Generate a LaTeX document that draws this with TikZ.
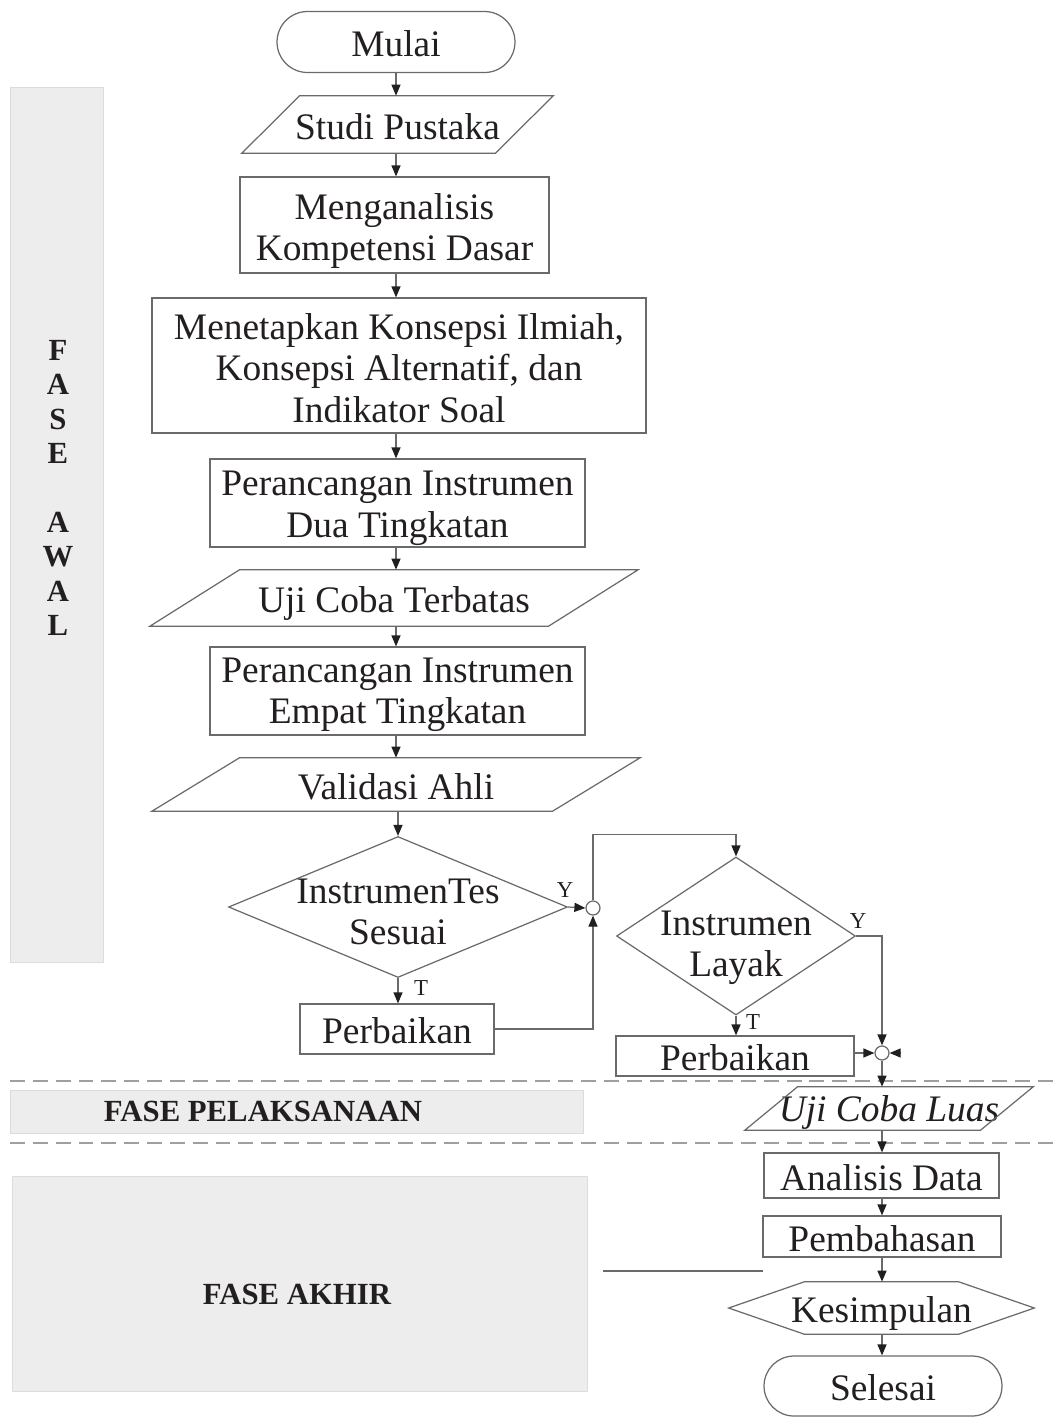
\documentclass[tikz,border=0pt]{standalone}
\usepackage{fontspec}
\setmainfont{Liberation Serif}
\usetikzlibrary{arrows.meta,calc,shapes.geometric,shapes.misc}
\definecolor{txt}{HTML}{231F20}
\definecolor{lnc}{HTML}{6A6A6A}
\definecolor{phase}{HTML}{EDEDED}
\definecolor{phaseb}{HTML}{DCDCDC}
\newcommand{\paraout}[2]{\draw[draw=lnc, line width=0.7pt] ($(#1.north west)+(#2,0)$) -- (#1.north east) -- ($(#1.south east)-(#2,0)$) -- (#1.south west) -- cycle;}
\begin{document}
\begin{tikzpicture}[x=0.02cm,y=-0.02cm,
  every node/.style={text=txt, inner sep=0pt},
  base/.style={font=\fontsize{21.3}{23.4}\selectfont, align=center},
  one/.style={text height=17pt, text depth=0.2pt},
  proc/.style={base, rectangle, draw=lnc, line width=0.7pt},
  term/.style={base, one, rounded rectangle, draw=lnc, line width=0.7pt},
  iobox/.style={base, one, rectangle},
  dec/.style={diamond, draw=lnc, line width=0.7pt},
  junc/.style={circle, draw=lnc, line width=0.7pt, fill=white, minimum size=0.28cm},
  arr/.style={draw=lnc, line width=0.7pt, -{Triangle[length=0.22cm,width=0.18cm,color=txt]}},
  lbl/.style={font=\fontsize{13}{13}\selectfont},
  phasebox/.style={fill=phase, draw=phaseb, line width=0.5pt},
  phasetxt/.style={font=\bfseries\fontsize{17.5}{19.6}\selectfont, align=center},
  sepline/.style={draw=gray!75, line width=1pt, dash pattern=on 8.5pt off 4.5pt}]
\useasboundingbox (0,0) rectangle (1060,1427);

% phase boxes
\path[phasebox] (10,87) rectangle (103,962);
\node[phasetxt] (fawal) at (58,488) {F\\A\\S\\E\\~\\A\\W\\A\\L};
\path[phasebox] (10,1090) rectangle (583,1133);
\node[phasetxt] (fpel) at (263,1111) {FASE PELAKSANAAN};
\path[phasebox] (12,1176) rectangle (587,1391);
\node[phasetxt] (fakh) at (297,1294) {FASE AKHIR};

% separators
\draw[sepline] (10,1081) -- (1060,1081);
\draw[sepline] (10,1143) -- (1060,1143);
\draw[draw=lnc, line width=0.7pt] (603,1271) -- (763,1271);

% main column
\node[term, minimum width=4.76cm, minimum height=1.22cm] (mulai) at (396,42) {Mulai};
\node[iobox, minimum width=6.22cm, minimum height=1.14cm] (studi) at (397.5,124.5) {Studi Pustaka};
\paraout{studi}{58}
\node[proc, minimum width=6.18cm, minimum height=1.92cm,
  label={[base, yshift=-3.5pt]center:{Menganalisis\\Kompetensi Dasar}}] (meng) at (394.5,225) {};
\node[proc, minimum width=9.88cm, minimum height=2.7cm,
  label={[base, yshift=-1.5pt]center:{Menetapkan Konsepsi Ilmiah,\\Konsepsi Alternatif, dan\\Indikator Soal}}] (menet) at (399,365.5) {};
\node[proc, minimum width=7.5cm, minimum height=1.76cm,
  label={[base, yshift=-3pt]center:{Perancangan Instrumen\\Dua Tingkatan}}] (dua) at (397.5,503) {};
\node[iobox, minimum width=9.76cm, minimum height=1.12cm] (uji1) at (394,598) {Uji Coba Terbatas};
\paraout{uji1}{90}
\node[proc, minimum width=7.5cm, minimum height=1.76cm,
  label={[base, yshift=-2pt]center:{Perancangan Instrumen\\Empat Tingkatan}}] (empat) at (397.5,691) {};
\node[iobox, minimum width=9.76cm, minimum height=1.06cm] (valid) at (396,784.5) {Validasi Ahli};
\paraout{valid}{88}

% decision 1
\node[dec, minimum width=6.78cm, minimum height=2.82cm] (d1) at (398,907) {};
\node[base] (d1t) at (398,912) {InstrumenTes\\Sesuai};
\node[junc] (j1) at (593,908) {};
\node[proc, one, minimum width=3.88cm, minimum height=1.0cm] (p1) at (397,1029) {Perbaikan};
\node[lbl] (y1) at (565,890) {Y};
\node[lbl] (t1) at (421,988) {T};

% decision 2
\node[dec, minimum width=4.78cm, minimum height=3.16cm] (d2) at (736,936) {};
\node[base] (d2t) at (736,948) {Instrumen\\Layak};
\node[proc, one, minimum width=4.76cm, minimum height=0.8cm] (p2) at (735,1056) {Perbaikan};
\node[junc] (j2) at (882,1053) {};
\coordinate (j2r) at ($(j2.east)+(11,0)$);
\node[lbl] (y2) at (858,921) {Y};
\node[lbl] (t2) at (753,1022) {T};

% final column
\node[iobox, minimum width=5.76cm, minimum height=0.86cm, text height=14.5pt, font=\itshape\fontsize{21.3}{23.4}\selectfont] (uluas) at (889,1108.5) {Uji Coba Luas};
\paraout{uluas}{53}
\node[proc, one, minimum width=4.7cm, minimum height=0.9cm] (anal) at (881.5,1175.5) {Analisis Data};
\node[proc, one, minimum width=4.76cm, minimum height=0.82cm] (pemb) at (882,1236.5) {Pembahasan};
\node[iobox, minimum width=6.1cm, minimum height=1.04cm] (kes) at (881.5,1308) {Kesimpulan};
\draw[draw=lnc, line width=0.7pt] (kes.west) -- ($(kes.north west)+(76,0)$) -- ($(kes.north east)-(76,0)$) -- (kes.east) -- ($(kes.south east)-(76,0)$) -- ($(kes.south west)+(76,0)$) -- cycle;
\node[term, minimum width=4.76cm, minimum height=1.2cm] (sel) at (883,1386) {Selesai};

% connectors
\draw[arr] (mulai.south) -- (mulai.south |- studi.north);
\draw[arr] (studi.south -| mulai.south) -- (mulai.south |- meng.north);
\draw[arr] (meng.south -| mulai.south) -- (mulai.south |- menet.north);
\draw[arr] (menet.south -| mulai.south) -- (mulai.south |- dua.north);
\draw[arr] (dua.south -| mulai.south) -- (mulai.south |- uji1.north);
\draw[arr] (uji1.south -| mulai.south) -- (mulai.south |- empat.north);
\draw[arr] (empat.south -| mulai.south) -- (mulai.south |- valid.north);
\draw[arr] (valid.south -| d1.north) -- (d1.north);
\draw[arr] (d1.east) -- (j1.west);
\draw[arr] (j1.north) |- ($(d2.north)+(0,-22)$) -- (d2.north);
\draw[arr] (d1.south) -- (d1.south |- p1.north);
\draw[arr] (p1.east) -| (j1.south);
\draw[arr] (d2.east) -| (j2.north);
\draw[arr] (d2.south) -- (d2.south |- p2.north);
\draw[arr] (p2.east |- j2.west) -- (j2.west);
\draw[arr] (j2r) -- (j2.east);
\draw[arr] (j2.south) -- (j2.south |- uluas.north);
\draw[arr] (j2.south |- uluas.south) -- (j2.south |- anal.north);
\draw[arr] (j2.south |- anal.south) -- (j2.south |- pemb.north);
\draw[arr] (j2.south |- pemb.south) -- (j2.south |- kes.north);
\draw[arr] (j2.south |- kes.south) -- (j2.south |- sel.north);
\end{tikzpicture}
\end{document}
